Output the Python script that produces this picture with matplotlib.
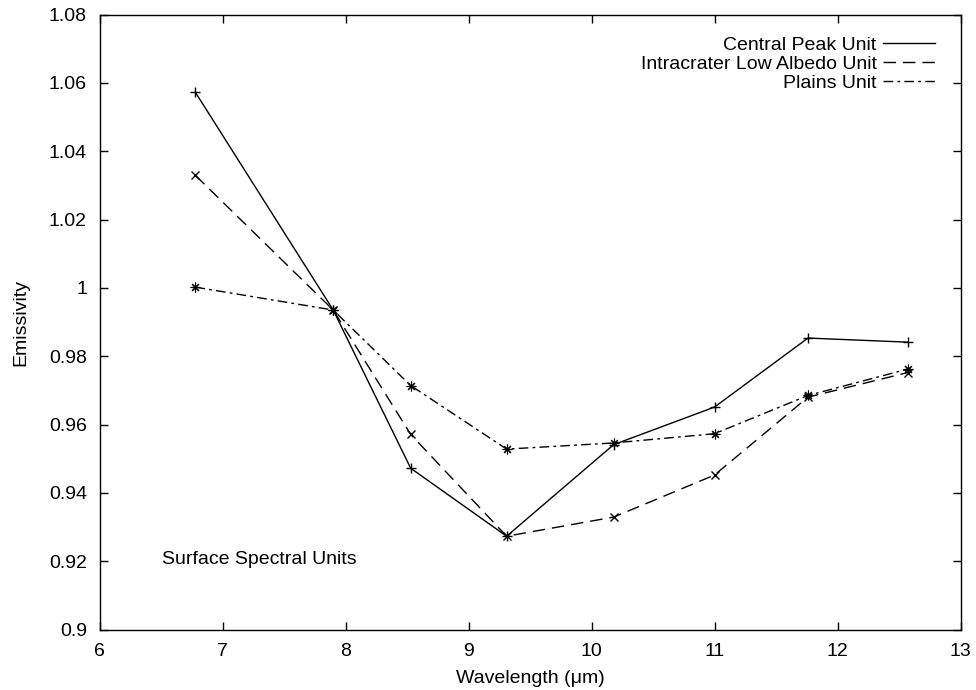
import matplotlib
matplotlib.use("Agg")
import matplotlib.pyplot as plt
from matplotlib.lines import Line2D

plt.rcParams['font.family'] = ['Liberation Sans', 'DejaVu Sans']

wavelength = [6.78, 7.90, 8.53, 9.31, 10.18, 11.00, 11.76, 12.57]
central_peak = [1.0572, 0.9935, 0.9472, 0.9273, 0.9541, 0.9651, 0.9853, 0.9841]
low_albedo = [1.0329, 0.9935, 0.9571, 0.9273, 0.9329, 0.9452, 0.9680, 0.9752]
plains = [1.0002, 0.9935, 0.9714, 0.9528, 0.9546, 0.9573, 0.9685, 0.9762]
labels = ["Central Peak Unit", "Intracrater Low Albedo Unit", "Plains Unit"]

fs = 14
fig = plt.figure(figsize=(9.76, 6.90), dpi=100)
L, R, T, B = 99.5, 960.5, 14.5, 629.5
ax = fig.add_axes([L/976, 1-B/690, (R-L)/976, (B-T)/690])

lw = 1.0
dash = (0, (9, 5))
dashdot = (0, (7, 3, 2, 3))
ax.plot(wavelength, central_peak, color='black', lw=lw, ls='-', marker='+', ms=7, mew=1.0)
ax.plot(wavelength, low_albedo, color='black', lw=lw, ls=dash, marker='x', ms=6, mew=1.0)
ax.plot(wavelength, plains, color='black', lw=lw, ls=dashdot, marker=(8, 2, 0), ms=7, mew=0.8)

ax.set_xlim(6, 13)
ax.set_ylim(0.9, 1.08)
ax.set_xticks(range(6, 14))
yt = [0.9, 0.92, 0.94, 0.96, 0.98, 1.0, 1.02, 1.04, 1.06, 1.08]
ax.set_yticks(yt)
ax.set_yticklabels(['0.9', '0.92', '0.94', '0.96', '0.98', '1', '1.02', '1.04', '1.06', '1.08'])
ax.tick_params(direction='in', top=True, right=True, length=6, width=1, labelsize=fs)
ax.tick_params(axis='x', pad=10)
ax.tick_params(axis='y', pad=9)
for s in ax.spines.values():
    s.set_linewidth(1.0)
ax.set_xlabel('Wavelength (\u03bcm)', fontsize=fs, labelpad=7)
ax.set_ylabel('Emissivity', fontsize=fs, labelpad=14)

ax.text(6.51, 0.9205, 'Surface Spectral Units', fontsize=fs, va='center', ha='left')

handles = [Line2D([], [], color='black', lw=lw, ls='-'),
           Line2D([], [], color='black', lw=lw, ls=dash),
           Line2D([], [], color='black', lw=lw, ls=dashdot)]
ax.legend(handles, labels, loc='upper right', bbox_to_anchor=((935 - L) / (R - L), 0.965), frameon=False,
          markerfirst=False, handlelength=2.7, fontsize=fs, labelspacing=0.07, handletextpad=0.3,
          borderaxespad=0, borderpad=0)

fig.savefig('out.png', dpi=100)
